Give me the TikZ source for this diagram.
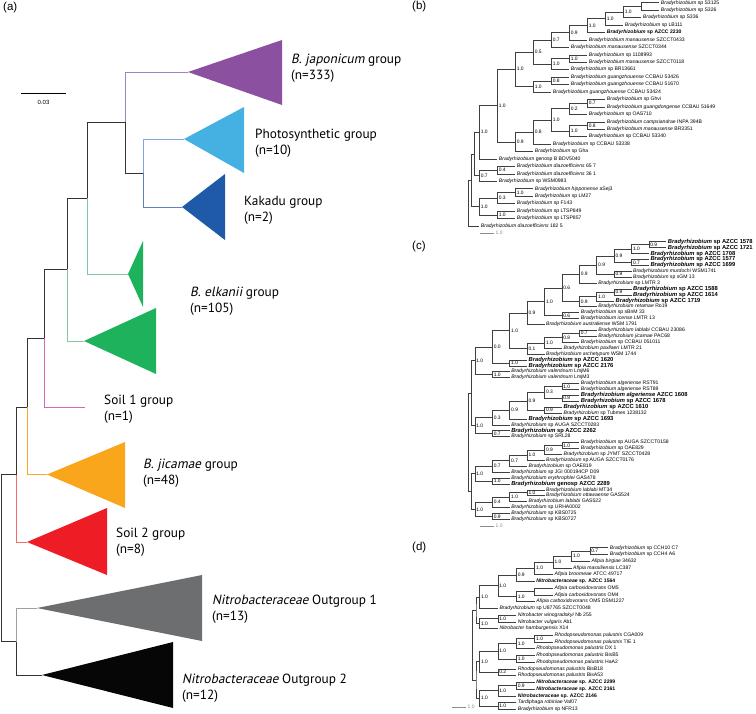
\documentclass[tikz,border=0pt]{standalone}
\usepackage{fontspec}
\setmainfont{Liberation Sans}
\newfontfamily\grpfont[ItalicFont={PT Sans}, ItalicFeatures={FakeSlant=0.2}]{PT Sans}
\newcommand\Br[1]{\textit{Bradyrhizobium} #1}
\newcommand\Bi[2]{\textit{Bradyrhizobium #1} #2}
\newcommand\Bb[1]{\textbf{\textit{Bradyrhizobium} #1}}
\newcommand\Bc[1]{{\fontsize{5.8}{6}\selectfont\textbf{\textit{Bradyrhizobium} #1}}}
\newcommand\Bci[2]{{\fontsize{5.8}{6}\selectfont\textbf{\textit{Bradyrhizobium #1} #2}}}
\newcommand\Gi[2]{\textit{#1} #2}
\newcommand\Nb[1]{\textbf{\textit{Nitrobacteraceae} sp. #1}}
\def\PX{0}\def\PS{0}\def\PY{0}\def\PD{0}
\newcommand\LF[4]{\pgfmathsetmacro\tmpx{\PX+\PS*(#2)}\pgfmathsetmacro\tmpy{\PY+\PD*(#3)}\coordinate (#1) at (\tmpx,\tmpy); \node[lf] at (#1) {#4};}
\newcommand\ND[5]{\pgfmathsetmacro\tmpx{\PX+\PS*(#2)}\path (#3) -- coordinate[midway] (#1m) (#4); \coordinate (#1x) at (\tmpx,0); \coordinate (#1) at (#1x |- #1m); \draw[br] (#3) -| (#1) |- (#4); \node[lab] at (#1) {#5};}
\definecolor{cJap}{HTML}{8B51A0}
\definecolor{cPho}{HTML}{45B1E2}
\definecolor{cKak}{HTML}{1E5AA8}
\definecolor{cElk}{HTML}{1EB25C}
\definecolor{cJic}{HTML}{F9A61C}
\definecolor{cSo2}{HTML}{EE1C25}
\definecolor{cOg1}{HTML}{6D6E70}
\definecolor{cOg2}{HTML}{060606}
\definecolor{bPur}{HTML}{9A82D0}
\definecolor{bPho}{HTML}{7FA8E0}
\definecolor{bKak}{HTML}{5E80C4}
\definecolor{bGrn}{HTML}{7DCAA0}
\definecolor{bMag}{HTML}{D469B8}
\definecolor{bOra}{HTML}{F9A825}
\definecolor{bRed}{HTML}{F36B6B}
\definecolor{bGry}{HTML}{A0A0A0}
\tikzset{
  tr/.style={line width=0.7pt, draw=black!80},
  br/.style={line width=0.45pt, draw=black!75},
  lf/.style={anchor=west, inner sep=0pt, xshift=1.4pt, font=\fontsize{5.1}{6}\selectfont},
  lab/.style={anchor=west, inner sep=0pt, xshift=1.3pt, font=\fontsize{4.9}{6}\selectfont},
  grp/.style={anchor=west, align=left, inner sep=0pt, font=\grpfont\fontsize{13.3}{16}\selectfont},
  plab/.style={anchor=west, inner sep=0pt, font=\fontsize{11.5}{13}\selectfont},
  sc/.style={line width=0.5pt, draw=black!45},
  sclab/.style={anchor=west, inner sep=0pt, text=black!45, font=\fontsize{5}{6}\selectfont},
}
\begin{document}
\begin{tikzpicture}[x=1pt,y=-1pt]
\useasboundingbox (0,0) rectangle (756,714);
% ---------------- panel (a)
\node[plab] (pa) at (3,8) {(a)};
\coordinate (aroot) at (1,558);
\coordinate (aP) at (16,474.5);
\coordinate (aQ) at (27,407);
\coordinate (aR) at (44,338.5);
\coordinate (aS) at (67,269.5);
\coordinate (aT) at (87,198);
\coordinate (aU) at (125,122.5);
\coordinate (aV) at (143,173);
\coordinate (aW) at (16,641.5);
\coordinate (jap) at (188,72);
\coordinate (pho) at (184,139);
\coordinate (kak) at (182,207);
\coordinate (el1) at (128,274);
\coordinate (el2) at (84,341);
\coordinate (so1) at (85,407);
\coordinate (jic) at (47,474.5);
\coordinate (so2) at (27,542);
\coordinate (og1) at (37,608);
\coordinate (og2) at (42,675);
\fill[cJap] (jap) -- (282,40) -- (282,105) -- cycle;
\fill[cPho] (pho) -- (244,107) -- (244,173) -- cycle;
\fill[cKak] (kak) -- (225,174) -- (225,240) -- cycle;
\fill[cElk] (el1) -- (143,241) -- (143,307) -- cycle;
\fill[cElk] (el2) -- (156,308) -- (156,374) -- cycle;
\fill[cJic] (jic) -- (125,442) -- (125,508) -- cycle;
\fill[cSo2] (so2) -- (107,508) -- (107,575) -- cycle;
\fill[cOg1] (og1) -- (202,575) -- (202,641) -- cycle;
\fill[cOg2] (og2) -- (173,642) -- (173,708) -- cycle;
\draw[tr, draw=bPur] (aU) |- (jap);
\draw[tr] (aU) |- (aV);
\draw[tr, draw=bPho] (aV) |- (pho);
\draw[tr, draw=bKak] (aV) |- (kak);
\draw[tr] (aT) |- (aU);
\draw[tr, draw=bGrn] (aT) |- (el1);
\draw[tr] (aS) |- (aT);
\draw[tr, draw=bGrn] (aS) |- (el2);
\draw[tr] (aR) |- (aS);
\draw[tr, draw=bMag] (aR) |- (so1);
\draw[tr] (aQ) |- (aR);
\draw[tr, draw=bOra] (aQ) |- (jic);
\draw[tr] (aP) |- (aQ);
\draw[tr, draw=bRed] (aP) |- (so2);
\draw[tr] (aroot) |- (aP);
\draw[tr] (aroot) |- (aW);
\draw[tr, draw=bGry] (aW) |- (og1);
\draw[tr] (aW) |- (og2);
\node[grp] (lJap) at (291,68) {\textit{B. japonicum} group\\(n=333)};
\node[grp] (lPho) at (255,143) {Photosynthetic group\\(n=10)};
\node[grp] (lKak) at (244,210.5) {Kakadu group\\(n=2)};
\node[grp] (lElk) at (190,301) {\textit{B. elkanii} group\\(n=105)};
\node[grp] (lSo1) at (104,409) {Soil 1 group\\(n=1)};
\node[grp] (lJic) at (143,473) {\textit{B. jicamae} group\\(n=48)};
\node[grp] (lSo2) at (116,542.5) {Soil 2 group\\(n=8)};
\node[grp] (lOg1) at (212,609) {\textit{Nitrobacteraceae} Outgroup 1\\(n=13)};
\node[grp] (lOg2) at (182,688.5) {\textit{Nitrobacteraceae} Outgroup 2\\(n=12)};
\coordinate (asb1) at (21,93);
\coordinate (asb2) at (66,93);
\draw[line width=0.6pt] (asb1) -- (asb2);
\node[inner sep=0pt, font=\fontsize{6}{7}\selectfont] (asbl) at (43.5,102) {0.03};
% ---------------- panel (b)
\node[plab] (pb) at (412,7) {(b)};
\def\PX{479.3}\def\PS{18}\def\PY{2.7}\def\PD{7.44}
\LF{b0}{10}{0}{\Br{sp S3125}}
\LF{b1}{10}{1}{\Br{sp S326}}
\LF{b2}{9}{2}{\Br{sp S336}}
\LF{b3}{8}{3}{\Br{sp LB111}}
\LF{b4}{7}{4}{\Bb{sp AZCC 2230}}
\LF{b5}{6}{5}{\Bi{manausense}{SZCCT0433}}
\LF{b6}{5}{6}{\Bi{manausense}{SZCCT0344}}
\LF{b7}{6}{7}{\Br{sp 1108993}}
\LF{b8}{6}{8}{\Bi{manausense}{SZCCT0118}}
\LF{b9}{5}{9}{\Br{sp BR13661}}
\LF{b10}{5}{10}{\Bi{guangzhouense}{CCBAU 53426}}
\LF{b11}{5}{11}{\Bi{guangzhouense}{CCBAU 51670}}
\LF{b12}{4}{12}{\Bi{guangzhouense}{CCBAU 53424}}
\LF{b13}{7}{13}{\Br{sp Ghvi}}
\LF{b14}{7}{14}{\Bi{guangdongense}{CCBAU 51649}}
\LF{b15}{6}{15}{\Br{sp OAS710}}
\LF{b16}{7}{16}{\Bi{campsiandrae}{INPA 394B}}
\LF{b17}{7}{17}{\Bi{manausense}{BR3351}}
\LF{b18}{6}{18}{\Br{sp CCBAU 53340}}
\LF{b19}{4}{19}{\Br{sp CCBAU 53338}}
\LF{b20}{3}{20}{\Br{sp Gha}}
\LF{b21}{1}{21}{\Br{genosp B BDV5040}}
\LF{b22}{2}{22}{\Bi{diazoefficiens}{65 7}}
\LF{b23}{2}{23}{\Bi{diazoefficiens}{36 1}}
\LF{b24}{1}{24}{\Br{sp WSM0983}}
\LF{b25}{3}{25}{\Bi{hipponense}{aSej3}}
\LF{b26}{3}{26}{\Br{sp LM27}}
\LF{b27}{2}{27}{\Br{sp F143}}
\LF{b28}{2}{28}{\Br{sp LTSP849}}
\LF{b29}{2}{29}{\Br{sp LTSP857}}
\LF{b30}{0}{30}{\Bi{diazoefficiens}{182 5}}
\ND{bn1}{9}{b0}{b1}{}
\ND{bn2}{8}{bn1}{b2}{1.0}
\ND{bn3}{7}{bn2}{b3}{1.0}
\ND{bn4}{6}{bn3}{b4}{1.0}
\ND{bn5}{5}{bn4}{b5}{0.9}
\ND{bn6}{4}{bn5}{b6}{0.7}
\ND{bc7}{5}{b7}{b8}{1.0}
\ND{bc8}{4}{bc7}{b9}{1.0}
\ND{bn7}{3}{bn6}{bc8}{0.5}
\ND{bg1}{4}{b10}{b11}{0.8}
\ND{bg2}{3}{bg1}{b12}{1.0}
\ND{bn8}{2}{bn7}{bg2}{1.0}
\ND{bp1}{6}{b13}{b14}{0.7}
\ND{bp2}{5}{bp1}{b15}{0.2}
\ND{bp3}{6}{b16}{b17}{0.8}
\ND{bp4}{5}{bp3}{b18}{1.0}
\ND{bp5}{4}{bp2}{bp4}{1.0}
\ND{bp6}{3}{bp5}{b19}{0.8}
\ND{bp7}{2}{bp6}{b20}{0.9}
\ND{bn9}{1}{bn8}{bp7}{1.0}
\ND{bn10}{0}{bn9}{b21}{1.0}
\ND{bd1}{1}{b22}{b23}{0.4}
\ND{bd2}{0}{bd1}{b24}{0.7}
\ND{bh1}{2}{b25}{b26}{1.0}
\ND{bh2}{1}{bh1}{b27}{0.3}
\ND{bh3}{1}{b28}{b29}{1.0}
\ND{bh4}{0}{bh2}{bh3}{1.0}
\ND{bR1}{-0.3}{bn10}{bd2}{}
\ND{bR2}{-0.45}{bR1}{bh4}{}
\ND{bRt}{-0.6}{bR2}{b30}{}
\coordinate (bsb1) at (480,233);
\coordinate (bsb2) at (494,233);
\draw[sc] (bsb1) -- (bsb2);
\node[sclab] (bsbl) at (495.5,233) {1.0};
% ---------------- panel (c)
\node[plab] (pc) at (412,247) {(c)};
\def\PX{492.3}\def\PS{17.4}\def\PY{241.7}\def\PD{5.906}
\LF{c0}{10}{0}{\Bc{sp AZCC 1578}}
\LF{c1}{10}{1}{\Bc{sp AZCC 1721}}
\LF{c2}{9}{2}{\Bc{sp AZCC 1708}}
\LF{c3}{9}{3}{\Bc{sp AZCC 1577}}
\LF{c4}{9}{4}{\Bc{sp AZCC 1699}}
\LF{c5}{8}{5}{\Bi{murdochi}{WSM1741}}
\LF{c6}{8}{6}{\Br{sp sGM 13}}
\LF{c7}{6}{7}{\Br{sp LMTR 3}}
\LF{c8}{8}{8}{\Bc{sp AZCC 1588}}
\LF{c9}{8}{9}{\Bc{sp AZCC 1614}}
\LF{c10}{7}{10}{\Bc{sp AZCC 1719}}
\LF{c11}{6}{11}{\Bi{retamae}{Ro19}}
\LF{c12}{5}{12}{\Br{sp sBnM 33}}
\LF{c13}{5}{13}{\Bi{icense}{LMTR 13}}
\LF{c14}{3}{14}{\Bi{australiense}{WSM 1791}}
\LF{c15}{6}{15}{\Bi{lablabi}{CCBAU 23086}}
\LF{c16}{6}{16}{\Bi{jicamae}{PAC68}}
\LF{c17}{5}{17}{\Br{sp CCBAU 051011}}
\LF{c18}{4}{18}{\Bi{paxllaeri}{LMTR 21}}
\LF{c19}{3}{19}{\Bi{archetypum}{WSM 1744}}
\LF{c20}{2}{20}{\Bc{sp AZCC 1620}}
\LF{c21}{2}{21}{\Bc{sp AZCC 2176}}
\LF{c22}{1}{22}{\Bi{valentinum}{LmjM6}}
\LF{c23}{1}{23}{\Bi{valentinum}{LmjM3}}
\LF{c24}{5}{24}{\Bi{algeriense}{RST91}}
\LF{c25}{5}{25}{\Bi{algeriense}{RST89}}
\LF{c26}{5}{26}{\Bci{algeriense}{AZCC 1608}}
\LF{c27}{5}{27}{\Bc{sp AZCC 1678}}
\LF{c28}{4}{28}{\Bc{sp AZCC 1610}}
\LF{c29}{4}{29}{\Br{sp Tubmes 1238132}}
\LF{c30}{2}{30}{\Bc{sp AZCC 1693}}
\LF{c31}{1}{31}{\Br{sp AUGA SZCCT0283}}
\LF{c32}{1}{32}{\Bc{sp AZCC 2262}}
\LF{c33}{1}{33}{\Br{sp SRL28}}
\LF{c34}{5}{34}{\Br{sp AUGA SZCCT0158}}
\LF{c35}{5}{35}{\Br{sp OAE829}}
\LF{c36}{4}{36}{\Br{sp JYMT SZCCT0428}}
\LF{c37}{3}{37}{\Br{sp AUGA SZCCT0176}}
\LF{c38}{2}{38}{\Br{sp OAE819}}
\LF{c39}{1}{39}{\Br{sp JGI 000194CP D09}}
\LF{c40}{1}{40}{\Bi{erythrophlei}{GAS478}}
\LF{c41}{1}{41}{\Bc{genosp AZCC 2289}}
\LF{c42}{3}{42}{\Bi{lablabi}{MT34}}
\LF{c43}{3}{43}{\Bi{ottawaense}{GAS524}}
\LF{c44}{2}{44}{\Bi{lablabi}{GAS522}}
\LF{c45}{1}{45}{\Br{sp URHA0002}}
\LF{c46}{1}{46}{\Br{sp KBS0725}}
\LF{c47}{1}{47}{\Br{sp KBS0727}}
\ND{ca1}{9}{c0}{c1}{0.9}
\ND{ca3}{8}{ca1}{c2}{1.0}
\ND{ca2}{8}{c3}{c4}{0.7}
\ND{ca4}{7}{ca3}{ca2}{0.9}
\ND{ca5}{7}{c5}{c6}{0.9}
\ND{ca6}{6}{ca4}{ca5}{0.9}
\ND{ca7}{5}{ca6}{c7}{0.9}
\ND{cb1}{7}{c8}{c9}{0.9}
\ND{cb2}{6}{cb1}{c10}{1.0}
\ND{cb3}{5}{cb2}{c11}{0.9}
\ND{ca8}{4}{ca7}{cb3}{0.6}
\ND{cc1}{4}{c12}{c13}{0.6}
\ND{ca9}{3}{ca8}{cc1}{1.0}
\ND{ca10}{2}{ca9}{c14}{0.9}
\ND{ce1}{5}{c15}{c16}{0.7}
\ND{ce2}{4}{ce1}{c17}{0.8}
\ND{ce3}{3}{ce2}{c18}{1.0}
\ND{ce4}{2}{ce3}{c19}{0.1}
\ND{ca11}{1}{ca10}{ce4}{1.0}
\ND{cf1}{1}{c20}{c21}{1.0}
\ND{ca12}{0}{ca11}{cf1}{0.0}
\ND{cg1}{0}{c22}{c23}{1.0}
\ND{ca13}{-1}{ca12}{cg1}{1.0}
\ND{ch1}{4}{c24}{c25}{1.0}
\ND{ch2}{4}{c26}{c27}{0.8}
\ND{ch3}{3}{ch1}{ch2}{0.3}
\ND{ch4}{3}{c28}{c29}{0.9}
\ND{ch5}{2}{ch3}{ch4}{0.9}
\ND{ch6}{1}{ch5}{c30}{0.9}
\ND{ch7}{0}{ch6}{c31}{0.3}
\ND{ci1}{0}{c32}{c33}{0.7}
\ND{ch8}{-1}{ch7}{ci1}{1.0}
\ND{cj1}{4}{c34}{c35}{1.0}
\ND{cj2}{3}{cj1}{c36}{0.9}
\ND{cj3}{2}{cj2}{c37}{1.0}
\ND{cj4}{1}{cj3}{c38}{0.7}
\ND{cj5}{0}{cj4}{c39}{0.7}
\ND{ck1}{0}{c40}{c41}{1.0}
\ND{cj6}{-1}{cj5}{ck1}{1.0}
\ND{cl1}{2}{c42}{c43}{1.0}
\ND{cl2}{1}{cl1}{c44}{1.0}
\ND{cl3}{0}{cl2}{c45}{0.4}
\ND{cm1}{0}{c46}{c47}{0.9}
\ND{cl4}{-1}{cl3}{cm1}{1.0}
\ND{cR1}{-1.2}{ca13}{ch8}{}
\ND{cR2}{-1.2}{cj6}{cl4}{}
\ND{cRt}{-1.4}{cR1}{cR2}{}
\coordinate (csb1) at (480,526);
\coordinate (csb2) at (494,526);
\draw[sc] (csb1) -- (csb2);
\node[sclab] (csbl) at (495.5,526) {1.0};
% ---------------- panel (d)
\node[plab] (pd) at (412,548) {(d)};
\def\PX{479.5}\def\PS{18.4}\def\PY{547.7}\def\PD{6.73}
\LF{d0}{7}{0}{\Br{sp CCH10 C7}}
\LF{d1}{7}{1}{\Br{sp CCH4 A6}}
\LF{d2}{6}{2}{\Gi{Afipia birgiae}{34632}}
\LF{d3}{5}{3}{\Gi{Afipia massiliensis}{LC387}}
\LF{d4}{4}{4}{\Gi{Afipia broomeae}{ATCC 49717}}
\LF{d5}{3}{5}{\Nb{AZCC 1564}}
\LF{d6}{4}{6}{\Gi{Afipia carboxidovorans}{OM5}}
\LF{d7}{4}{7}{\Gi{Afipia carboxidovorans}{OM4}}
\LF{d8}{3}{8}{\Gi{Afipia carboxidovorans}{OM5 DSM1227}}
\LF{d9}{1}{9}{\Br{sp U87765 SZCCT0048}}
\LF{d10}{2}{10}{\Gi{Nitrobacter winogradskyi}{Nb 255}}
\LF{d11}{2}{11}{\Gi{Nitrobacter vulgaris}{Ab1}}
\LF{d12}{1}{12}{\Gi{Nitrobacter hamburgensis}{X14}}
\LF{d13}{4}{13}{\Gi{Rhodopseudomonas palustris}{CGA009}}
\LF{d14}{4}{14}{\Gi{Rhodopseudomonas palustris}{TIE 1}}
\LF{d15}{3}{15}{\Gi{Rhodopseudomonas palustris}{DX 1}}
\LF{d16}{3}{16}{\Gi{Rhodopseudomonas palustris}{BisB5}}
\LF{d17}{3}{17}{\Gi{Rhodopseudomonas palustris}{HaA2}}
\LF{d18}{2}{18}{\Gi{Rhodopseudomonas palustris}{BisB18}}
\LF{d19}{2}{19}{\Gi{Rhodopseudomonas palustris}{BisA53}}
\LF{d20}{3}{20}{\Nb{AZCC 2299}}
\LF{d21}{3}{21}{\Nb{AZCC 2161}}
\LF{d22}{2}{22}{\Nb{AZCC 2146}}
\LF{d23}{2}{23}{\Gi{Tardiphaga robiniae}{Vaf07}}
\LF{d24}{2}{24}{\Br{sp NFR13}}
\ND{dp1}{6}{d0}{d1}{0.7}
\ND{dp2}{5}{dp1}{d2}{1.0}
\ND{dp3}{4}{dp2}{d3}{1.0}
\ND{dp4}{3}{dp3}{d4}{1.0}
\ND{dp5}{2}{dp4}{d5}{0.9}
\ND{dq1}{3}{d6}{d7}{}
\ND{dq2}{2}{dq1}{d8}{1.0}
\ND{dp6}{1}{dp5}{dq2}{1.0}
\ND{dp7}{0}{dp6}{d9}{1.0}
\ND{dr1}{1}{d10}{d11}{1.0}
\ND{dr2}{0}{dr1}{d12}{1.0}
\ND{ds1}{3}{d13}{d14}{1.0}
\ND{ds2}{2}{ds1}{d15}{1.0}
\ND{ds3}{2}{d16}{d17}{1.0}
\ND{ds4}{1}{ds2}{ds3}{1.0}
\ND{ds5}{1}{d18}{d19}{0.2}
\ND{ds6}{0}{ds4}{ds5}{1.0}
\ND{dt1}{2}{d20}{d21}{0.9}
\ND{dt2}{1}{dt1}{d22}{1.0}
\ND{dt3}{1}{d23}{d24}{1.0}
\ND{dt4}{0}{dt2}{dt3}{1.0}
\ND{dR1}{-0.19}{dp7}{dr2}{}
\ND{dR2}{-0.19}{ds6}{dt4}{}
\ND{dRt}{-0.38}{dR1}{dR2}{}
\coordinate (dsb1) at (452,707);
\coordinate (dsb2) at (466,707);
\draw[sc] (dsb1) -- (dsb2);
\node[sclab] (dsbl) at (467.5,707) {1.0};
\end{tikzpicture}
\end{document}
